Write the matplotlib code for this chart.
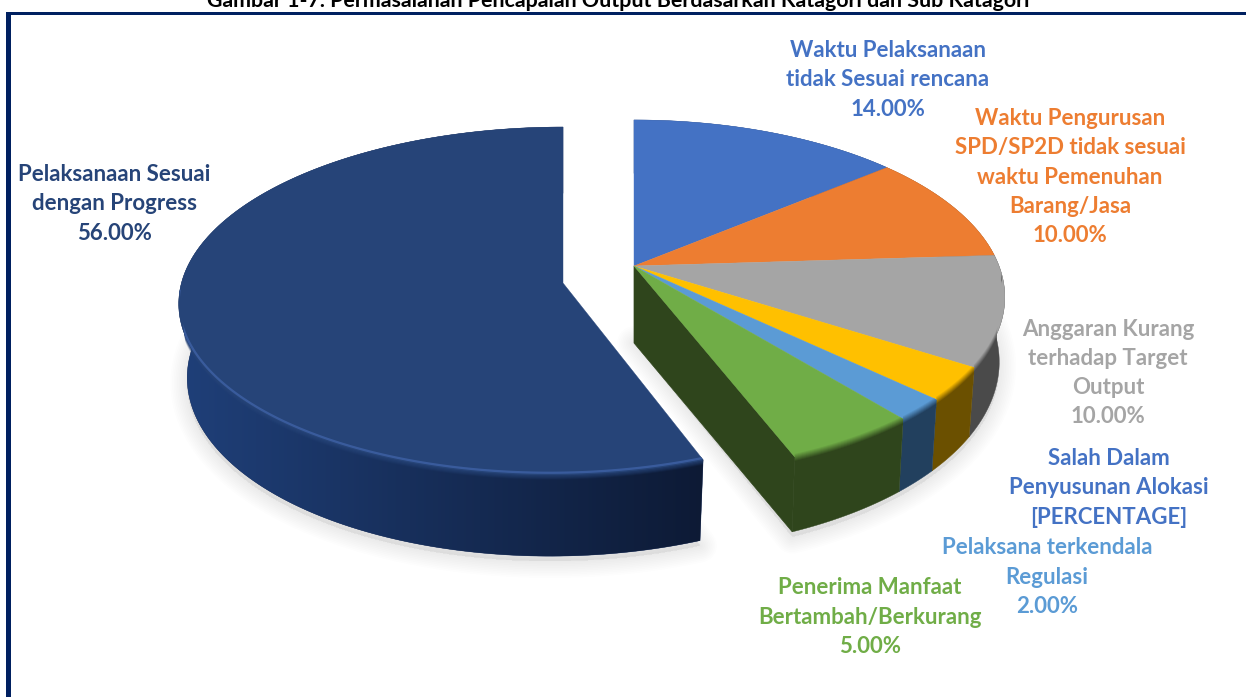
import numpy as np
import matplotlib
matplotlib.use('Agg')
import matplotlib.pyplot as plt
from matplotlib.patches import Polygon, Rectangle
from matplotlib.colors import to_rgb

# values as labelled on the chart, clockwise from 12 o'clock
values = [14, 10, 10, 3, 2, 5, 56]
top_colors = ['#4472C4', '#ED7D31', '#A5A5A5', '#FFC000', '#5B9BD5', '#70AD47', '#264478']
side_colors = ['#2A4578', '#8C4A1C', '#4A4A4A', '#6B5000', '#22405E', '#2F451C', '#172C58']

label_texts = [
    'Waktu Pelaksanaan\ntidak Sesuai rencana\n14.00%',
    'Waktu Pengurusan\nSPD/SP2D tidak sesuai\nwaktu Pemenuhan\nBarang/Jasa\n10.00%',
    'Anggaran Kurang\nterhadap Target\nOutput\n10.00%',
    'Salah Dalam\nPenyusunan Alokasi\n[PERCENTAGE]',
    'Pelaksana terkendala\nRegulasi\n2.00%',
    'Penerima Manfaat\nBertambah/Berkurang\n5.00%',
    'Pelaksanaan Sesuai\ndengan Progress\n56.00%',
]
label_colors = ['#4472C4', '#ED7D31', '#A5A5A5', '#4472C4', '#5B9BD5', '#70AD47', '#264478']
label_pos = [(888, 80), (1070, 177), (1108, 373), (1109, 488), (1047, 577), (870, 617), (114, 204)]

title = 'Gambar 1-7. Permasalahan Pencapaian Output Berdasarkan Katagori dan Sub Katagori'

plt.rcParams['font.family'] = ['Lato', 'DejaVu Sans']
W, H = 1246, 697
fig = plt.figure(figsize=(W / 100, H / 100), dpi=100)
ax = fig.add_axes([0, 0, 1, 1])


def project(theta, g):
    s, c = np.sin(theta), np.cos(theta)
    den = 1 + g['k'] * c
    x = g['cx'] + g['rx'] * s / den - g['m'] * (1 - c) / 2
    y = g['cy'] - g['ry'] * c / den
    return x, y, den


def bottom(x, y, den, g):
    return g['cx'] + (x - g['cx']) * g['sx'], y + g['d'] / den


def blend(a, b, t):
    a, b = np.array(to_rgb(a)), np.array(to_rgb(b))
    return tuple(a + (b - a) * t)


small = dict(cx=634, cy=266, rx=365, ry=171.7, k=0.176, m=0, sx=0.985, d=62.7, apex=77)
big = dict(cx=563, cy=283, rx=375, ry=172, k=0.103, m=13, sx=0.978, d=73, apex=77)

edges = np.cumsum([0] + values) / np.sum(values) * 2 * np.pi
geoms = [small] * 6 + [big]


def slice_arrays(i):
    g = geoms[i]
    th = np.linspace(edges[i], edges[i + 1], 200)
    x, y, den = project(th, g)
    bx, by = bottom(x, y, den, g)
    return g, th, x, y, den, bx, by


# soft drop shadows, one outline per group, only under the front of the pie
for group in ([0, 1, 2, 3, 4, 5], [6]):
    outline = []
    for i in group:
        g, th, x, y, den, bx, by = slice_arrays(i)
        front = np.cos(th) < 0.3
        outline.append(np.c_[bx[front], by[front] + 5])
    g = geoms[group[0]]
    pts = np.vstack([[g['cx'], g['cy'] + g['apex']]] + outline)
    for w in np.linspace(24, 2, 10):
        ax.add_patch(Polygon(pts, closed=True, fc=(0.6, 0.6, 0.6, 0.012),
                             ec=(0.6, 0.6, 0.6, 0.02), lw=w, joinstyle='round', zorder=1))

# cut face of the small group
g, th, x, y, den, bx, by = slice_arrays(5)
ax.add_patch(Polygon([(g['cx'], g['cy']), (x[-1], y[-1]), (bx[-1], by[-1]),
                      (g['cx'], g['cy'] + g['apex'])], closed=True,
                     fc=side_colors[5], ec=side_colors[5], lw=0.5, zorder=3))

# outer sides
for i in range(7):
    g, th, x, y, den, bx, by = slice_arrays(i)
    poly = Polygon(np.vstack([np.c_[x, y], np.c_[bx, by][::-1]]), closed=True,
                   fc=side_colors[i], ec=side_colors[i], lw=0.3, zorder=3)
    ax.add_patch(poly)
    if i == 6:
        # the big slice gets darker from left to right
        grad = np.linspace(0, 1, 256).reshape(1, -1, 1)
        rgb = np.array(to_rgb('#1F3F78')) + (np.array(to_rgb('#0D1A35')) - np.array(to_rgb('#1F3F78'))) * grad
        im = ax.imshow(rgb, extent=[185, 705, 600, 280], aspect='auto', zorder=3.1)
        im.set_clip_path(Polygon(np.vstack([np.c_[x, y], np.c_[bx, by][::-1]]), closed=True,
                                 transform=ax.transData))

# top faces and rim shading
for i in range(7):
    g, th, x, y, den, bx, by = slice_arrays(i)
    ax.add_patch(Polygon(np.vstack([[g['cx'], g['cy']], np.c_[x, y]]), closed=True,
                         fc=top_colors[i], ec=top_colors[i], lw=0.3, zorder=4))
    # bevel fades from the face colour into the side, only on the part facing the viewer
    lit = np.cos(th) < -0.05
    if lit.sum() < 2:
        continue
    xl, yl = x[lit], y[lit]
    first, last = np.where(lit)[0][[0, -1]]
    # clip outline walks the lit part along the bottom arc so it does not cross itself
    body = Polygon(np.vstack([[g['cx'], g['cy']], np.c_[x[:first + 1], y[:first + 1]],
                              np.c_[bx[lit], by[lit]], np.c_[x[last:], y[last:]]]),
                   closed=True, transform=ax.transData)
    for step in range(9):
        if i == 6:
            # fade out over the gradient side instead of going to one flat colour
            ln, = ax.plot(xl, yl - 3 + step, color=top_colors[i], alpha=1 - step / 8, lw=1.3,
                          solid_capstyle='butt', zorder=4.5)
        else:
            col = blend(top_colors[i], side_colors[i], step / 8)
            ln, = ax.plot(xl, yl - 3 + step, color=col, lw=1.3, solid_capstyle='butt', zorder=4.5)
        ln.set_clip_path(body)
    if i == 6:
        ln, = ax.plot(xl, yl - 2, color='#3F62A6', lw=1.6, alpha=0.8, zorder=4.6)
        ln.set_clip_path(body)

# frame
ax.add_patch(Rectangle((6, 12), W, 3, fc='#002060', ec='none', zorder=6))
ax.add_patch(Rectangle((6, 12), 5, H, fc='#002060', ec='none', zorder=6))

for txt, col, (lx, ly) in zip(label_texts, label_colors, label_pos):
    ax.text(lx, ly, txt, color=col, fontsize=16, fontweight='bold', ha='center', va='center',
            linespacing=1.49, zorder=7)

ax.text(618, 1, title, color='black', fontsize=15.4, fontweight='bold', ha='center', va='center', zorder=7)

ax.set_xlim(0, W)
ax.set_ylim(H, 0)
ax.axis('off')
fig.savefig('out.png', dpi=100, facecolor='white')
